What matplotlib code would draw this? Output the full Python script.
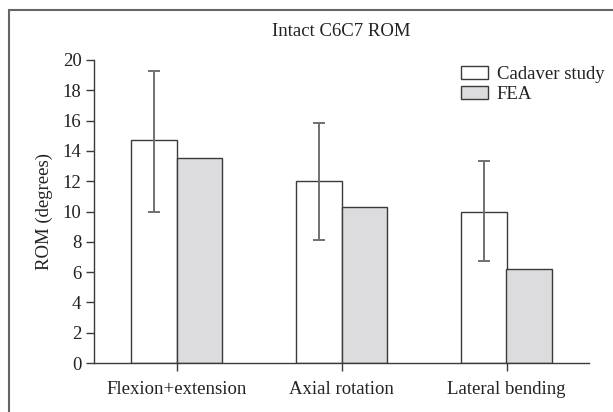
import matplotlib.pyplot as plt
import matplotlib.patches as mpatches
import numpy as np

# données
categories = ["Flexion+extension", "Axial rotation", "Lateral bending"]
cadaver = [14.7, 12.0, 10.0]
cadaver_err_low = [4.7, 3.9, 3.25]
cadaver_err_high = [4.55, 3.85, 3.35]
fea = [13.5, 10.3, 6.2]

plt.rcParams['font.family'] = ['Liberation Serif', 'DejaVu Serif']
fs = 13.5

fig = plt.figure(figsize=(6.13, 4.12), dpi=100)
ax = fig.add_axes([94 / 613, 1 - 363 / 412, (589 - 94) / 613, (363 - 60) / 412])

x = np.arange(len(categories))
w = 0.273
edge = "#3a3a3a"

ax.bar(x - w / 2, cadaver, w, color="white", edgecolor=edge, linewidth=1.0,
       label="Cadaver study", zorder=2)
ax.bar(x + w / 2, fea, w, color="#dcdcde", edgecolor=edge, linewidth=1.0,
       label="FEA", zorder=2)
ax.errorbar(x - w / 2, cadaver, yerr=[cadaver_err_low, cadaver_err_high],
            fmt="none", ecolor="#707070", elinewidth=1.4, capsize=4.6,
            capthick=1.4, zorder=3)

ax.set_xlim(-0.5, 2.5)
ax.set_ylim(0, 20)
ax.set_yticks(range(0, 21, 2))
ax.set_xticks(x)
ax.set_xticklabels(categories)
ax.tick_params(axis="both", direction="out", length=6, width=1.0,
               color=edge, labelcolor="#222222", labelsize=fs, pad=3)
ax.tick_params(axis="x", pad=7)
for s in ["top", "right"]:
    ax.spines[s].set_visible(False)
for s in ["left", "bottom"]:
    ax.spines[s].set_color(edge)
    ax.spines[s].set_linewidth(1.0)

ax.set_ylabel("ROM (degrees)", fontsize=fs, color="#222222", labelpad=7)
fig.text(341 / 613, 1 - 31 / 412, "Intact C6C7 ROM", ha="center", va="center",
         fontsize=fs, color="#222222")

leg = ax.legend(loc="upper left", bbox_to_anchor=((461 - 94) / 495, 1 - (66 - 60) / 303),
                frameon=False, handlelength=1.45, handleheight=0.7,
                handletextpad=0.45, labelspacing=0.15, borderaxespad=0,
                borderpad=0, fontsize=fs)
for t in leg.get_texts():
    t.set_color("#222222")

# cadre autour de la figure
fig.patches.append(mpatches.Rectangle((9 / 613, -0.1), 1.2, 1 - 10 / 412 + 0.1,
                                      transform=fig.transFigure, fill=False,
                                      edgecolor="#666666", linewidth=1.5))

plt.savefig("out.png", dpi=100)
